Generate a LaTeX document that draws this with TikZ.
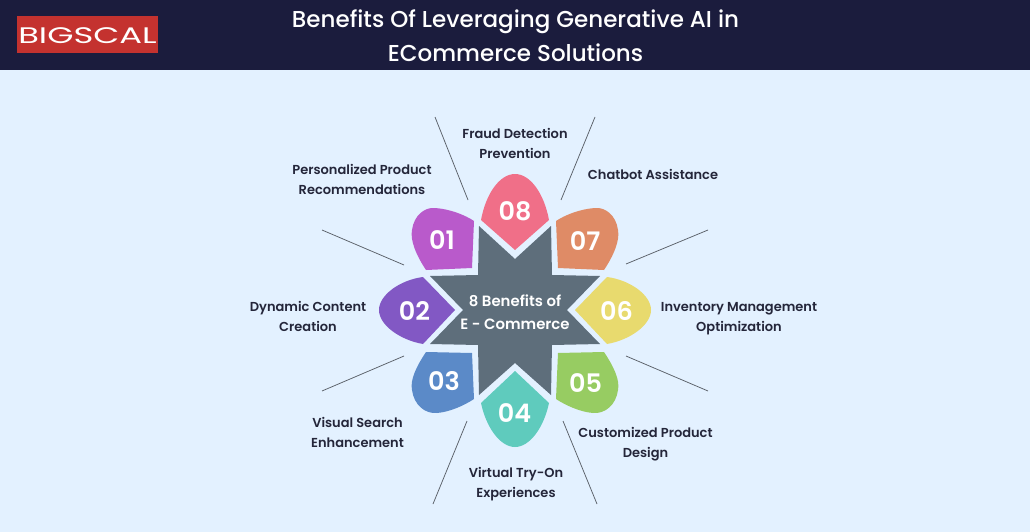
\documentclass[tikz,border=0pt]{standalone}
\usepackage{fontspec}
\setmainfont{Poppins}[BoldFont={Poppins SemiBold}]
\newfontfamily\pmed{Poppins Medium}
\definecolor{bgc}{HTML}{E3F1FF}
\definecolor{headc}{HTML}{1B1C3D}
\definecolor{logoc}{HTML}{C4322F}
\definecolor{starc}{HTML}{5E6E7B}
\definecolor{inkc}{HTML}{24263A}
\definecolor{lnc}{HTML}{5A6068}
\definecolor{pa}{HTML}{B95ACB}
\definecolor{pb}{HTML}{8258C4}
\definecolor{pc}{HTML}{5B8AC8}
\definecolor{pd}{HTML}{5FCBBD}
\definecolor{pe}{HTML}{97CC62}
\definecolor{pf}{HTML}{E8DA6E}
\definecolor{pg}{HTML}{DF8B66}
\definecolor{ph}{HTML}{F06F88}
\tikzset{
  lbl/.style={align=center,text=inkc,font=\bfseries\fontsize{13}{20}\selectfont,inner sep=0pt},
  num/.style={text=white,font=\bfseries\fontsize{25.5}{28}\selectfont,inner sep=0pt},
  ttl/.style={align=center,text=white,font=\pmed\fontsize{23}{34}\selectfont,inner sep=0pt},
  ctr/.style={align=center,text=white,font=\bfseries\fontsize{14.9}{23}\selectfont,inner sep=0pt},
  lead/.style={draw=lnc,line width=0.75pt},
}
\begin{document}
\begin{tikzpicture}[x=1pt,y=-1pt]
\useasboundingbox (0,0) rectangle (1030,532);
\fill[bgc] (0,0) rectangle (1030,532);
\fill[headc] (0,0) rectangle (1030,70);
\fill[logoc] (17,16) rectangle (158,53);
\node[inner sep=0pt,text=white] (logo) at (87.5,36) {\scalebox{1.5}[1]{\fontsize{22.5}{22}\selectfont BIGSCAL}};
\node[ttl] (title) at (515.5,36) {Benefits Of Leveraging Generative AI in\\ECommerce Solutions};
% star
\fill[starc] (479,226) -- (515,259) -- (551,226) -- (552,275) -- (600,276) -- (567,310)
  -- (600,344) -- (552,345) -- (551,395) -- (515,363) -- (479,395) -- (478,345)
  -- (430,344) -- (463,310) -- (430,276) -- (478,275) -- cycle;
% petals
\fill[ph] (515,250) -- (481,220) .. controls (486,193) and (500,174) .. (515,174)
  .. controls (530,174) and (544,193) .. (549,220) -- cycle;
\fill[pd] (515,371) -- (481,403) .. controls (486,427) and (500,447) .. (515,447)
  .. controls (530,447) and (544,427) .. (549,403) -- cycle;
\fill[pa] (474,221) -- (472,268) -- (426,270) .. controls (416,255) and (410,240) .. (412,230)
  .. controls (414,215) and (425,207) .. (435,208) .. controls (450,209) and (465,215) .. (474,221) -- cycle;
\fill[pg] (556,221) -- (558,268) -- (604,270) .. controls (614,255) and (620,240) .. (618,230)
  .. controls (616,215) and (605,207) .. (595,208) .. controls (580,209) and (565,215) .. (556,221) -- cycle;
\fill[pc] (474,399) -- (472,353) -- (426,352) .. controls (416,367) and (410,380) .. (412,390)
  .. controls (414,405) and (425,414) .. (437,413) .. controls (450,412) and (465,405) .. (474,399) -- cycle;
\fill[pe] (556,399) -- (558,353) -- (604,352) .. controls (614,367) and (620,380) .. (618,390)
  .. controls (616,405) and (605,414) .. (593,413) .. controls (580,412) and (565,405) .. (556,399) -- cycle;
\fill[pb] (423,277) -- (455,310) -- (423,344) .. controls (400,340) and (379,325) .. (379,310)
  .. controls (379,295) and (400,280) .. (423,277) -- cycle;
\fill[pf] (607,277) -- (575,310) -- (607,344) .. controls (630,340) and (651,325) .. (651,310)
  .. controls (651,295) and (630,280) .. (607,277) -- cycle;
% numbers
\node[num] (n1) at (442,240) {01};
\node[num] (n2) at (414.5,311) {02};
\node[num] (n3) at (444,381) {03};
\node[num] (n4) at (514.5,413) {04};
\node[num] (n5) at (585.5,383) {05};
\node[num] (n6) at (616.5,311) {06};
\node[num] (n7) at (585,241) {07};
\node[num] (n8) at (515,211) {08};
\node[ctr] (center) at (515,312) {8 Benefits of\\E - Commerce};
% labels
\node[lbl] (l1) at (362,179) {Personalized Product\\Recommendations};
\node[lbl] (l2) at (308,316) {Dynamic Content\\Creation};
\node[lbl] (l3) at (357.5,432) {Visual Search\\Enhancement};
\node[lbl] (l4) at (516,484) {Virtual Try-On\\Experiences};
\node[lbl] (l5) at (645.5,444) {Customized Product\\Design};
\node[lbl] (l6) at (739,319) {Inventory Management\\Optimization};
\node[lbl] (l7) at (653,174) {Chatbot Assistance};
\node[lbl] (l8) at (515,143) {Fraud Detection\\Prevention};
% leader lines
\coordinate (a1) at (435,117); \coordinate (b1) at (468,200);
\coordinate (a2) at (595,117); \coordinate (b2) at (561,200);
\coordinate (a3) at (322,230); \coordinate (b3) at (404,265);
\coordinate (a4) at (708,230); \coordinate (b4) at (626,264);
\coordinate (a5) at (322,391); \coordinate (b5) at (404,356);
\coordinate (a6) at (708,391); \coordinate (b6) at (626,356);
\coordinate (a7) at (433,504); \coordinate (b7) at (467,421);
\coordinate (a8) at (597,504); \coordinate (b8) at (563,421);
\foreach \i in {1,...,8} \draw[lead] (a\i) -- (b\i);
\end{tikzpicture}
\end{document}
